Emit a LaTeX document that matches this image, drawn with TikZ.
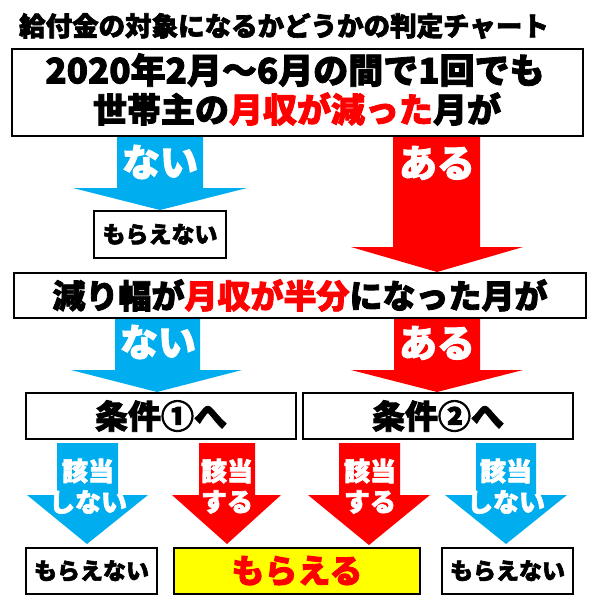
\documentclass[tikz,border=0pt]{standalone}
\usepackage{fontspec}
\setmainfont{Noto Sans CJK JP}[BoldFeatures={FakeBold=2.5}]
\usepackage{graphicx}
\definecolor{ablue}{HTML}{00AEEF}
\definecolor{ared}{HTML}{FF0000}
\definecolor{ayel}{HTML}{FFFF00}
% #1 colour, #2 shaft left, #3 shaft right, #4 top, #5 head top, #6 head left, #7 head right, #8 tip x, #9 tip y
\newcommand\dnarrow[9]{\fill[#1] (#2,#4) -- (#3,#4) -- (#3,#5) -- (#7,#5) -- (#8,#9) -- (#6,#5) -- (#2,#5) -- cycle;}
\begin{document}
\begin{tikzpicture}[x=1pt,y=-1pt,
  box/.style={draw=black,line width=1.2pt,fill=white,inner sep=0pt},
  fs/.style={font=\bfseries\fontsize{#1}{#1}\selectfont,inner sep=0pt},
  wt/.style={fs=#1,text=white}]
\fill[white] (0,0) rectangle (600,600);
\useasboundingbox (0,0) rectangle (600,600);

\node[fs=26.5] (title) at (284,26) {給付金の対象になるかどうかの判定チャート};

% question 1
\node[box,minimum width=571pt,minimum height=87pt] (q1) at (297.5,92.5) {};
\node[fs=35] (q1a) at (295,70) {2020年2月〜6月の間で1回でも};
\node[fs=34] (q1b) at (297,109) {世帯主の\textcolor{ared}{月収が減った}月が};

% answers to question 1
\dnarrow{ablue}{117}{203}{137}{188}{73}{247}{160}{210}
\node[wt=38] (a1t) at (160,162) {ない};
\node[box,fs=23,minimum width=132pt,minimum height=47pt] (s1) at (160,234.5) {もらえない};

\dnarrow{ared}{393}{480}{137}{247}{351}{523}{437}{272}
\node[wt=38] (a2t) at (437,163) {ある};

% question 2
\node[box,fs=33,minimum width=572pt,minimum height=45pt] (q2) at (300,295.5)
  {減り幅が\textcolor{ared}{月収が半分}になった月が};

\dnarrow{ablue}{115}{200}{319}{370}{71}{242}{157}{392}
\node[wt=38] (b1t) at (158,342) {ない};
\dnarrow{ared}{394}{480}{319}{370}{351}{523}{437}{392}
\node[wt=38] (b2t) at (437,343) {ある};

% conditions
\node[box,fs=33,minimum width=270pt,minimum height=46pt] (c1) at (161,416) {条件①へ};
\node[box,fs=33,minimum width=270pt,minimum height=46pt] (c2) at (438,416) {条件②へ};

% bottom arrows
\dnarrow{ablue}{57}{118}{443}{495}{27}{148}{87}{544}
\node[wt=26] (d1a) at (88,471) {該当};
\node[wt=26] (d1b) at (88,502) {しない};
\dnarrow{ared}{199}{255}{443}{495}{172}{281}{227}{544}
\node[wt=26] (d2a) at (227,471) {該当};
\node[wt=26] (d2b) at (227,502) {する};
\dnarrow{ared}{339}{400}{443}{495}{308}{430}{369}{545}
\node[wt=26] (d3a) at (370,471) {該当};
\node[wt=26] (d3b) at (370,502) {する};
\dnarrow{ablue}{476}{536}{443}{495}{445}{567}{506}{544}
\node[wt=26] (d4a) at (506,471) {該当};
\node[wt=26] (d4b) at (506,502) {しない};

% results
\node[box,fs=23,minimum width=131pt,minimum height=46pt] (e1) at (91.5,571) {もらえない};
\node[box,fill=ayel,fs=33,text=ared,minimum width=246pt,minimum height=46pt] (e2) at (297,571) {もらえる};
\node[box,fs=23,minimum width=131pt,minimum height=46pt] (e3) at (507.5,571) {もらえない};
\end{tikzpicture}
\end{document}
